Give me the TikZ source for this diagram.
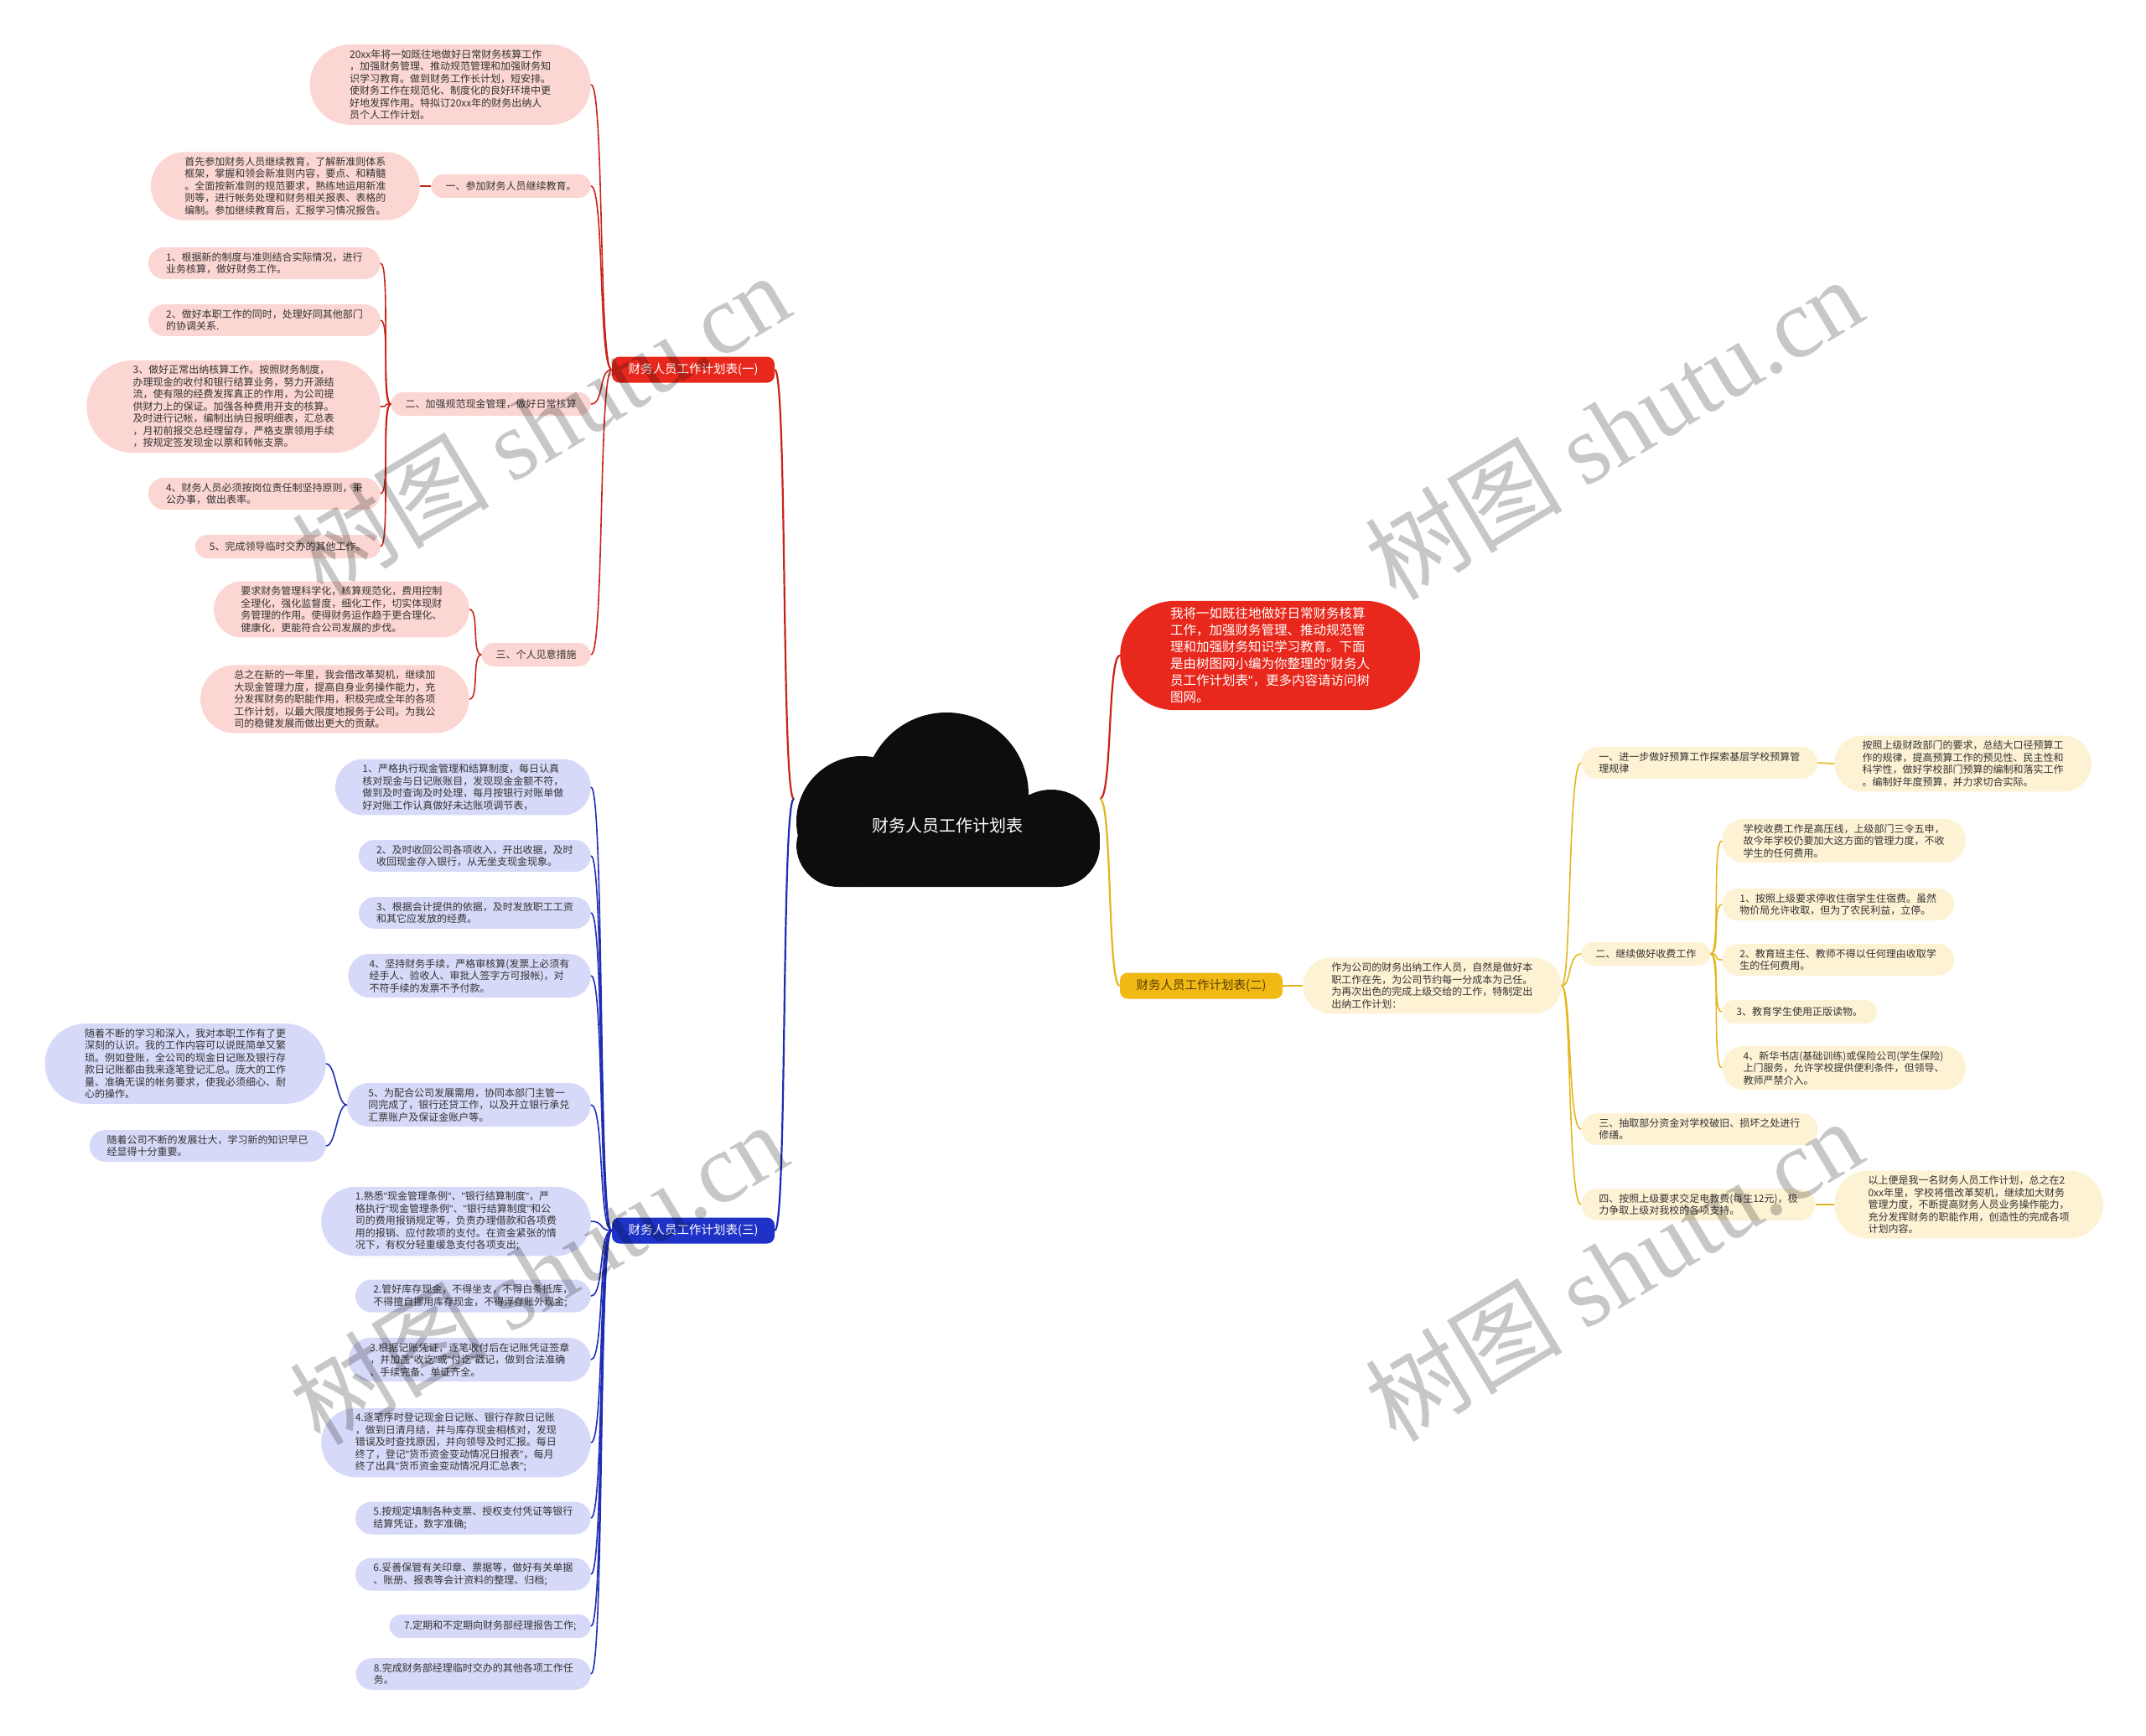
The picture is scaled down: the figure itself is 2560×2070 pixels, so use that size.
\documentclass[tikz,border=0pt]{standalone}
\usepackage{fontspec}
\setmainfont{Noto Sans CJK SC}
\newfontfamily\wmserif{Liberation Serif}
\newfontfamily\qfont{Liberation Sans}
\newcommand\qmark{{\qfont"}}
\usepackage{tikz}
\usetikzlibrary{shapes.misc}
\definecolor{redmain}{RGB}{232,40,28}
\definecolor{redsoft}{RGB}{251,214,210}
\definecolor{redlink}{RGB}{200,35,25}
\definecolor{bluemain}{RGB}{30,50,200}
\definecolor{bluesoft}{RGB}{214,218,248}
\definecolor{bluelink}{RGB}{30,45,180}
\definecolor{yelmain}{RGB}{240,185,20}
\definecolor{yelsoft}{RGB}{253,242,212}
\definecolor{yellink}{RGB}{228,182,30}
\definecolor{cloudblk}{RGB}{13,13,13}

\begin{document}
\begin{tikzpicture}[x=1pt, y=-1pt,
    leaf/.style={rounded rectangle, font=\fontsize{12}{14.5}\selectfont, align=left, inner xsep=16pt, inner ysep=6pt, minimum height=28pt, text=black!80},
    xpad/.style={inner xsep=#1pt},
    rleaf/.style={leaf, fill=redsoft},
    bleaf/.style={leaf, fill=bluesoft},
    yleaf/.style={leaf, fill=yelsoft},
    topic/.style={rectangle, rounded corners=9pt, minimum width=194pt, minimum height=31pt, font=\fontsize{14.5}{17}\selectfont},
    rlink/.style={draw=redlink, line width=1.6pt},
    blink/.style={draw=bluelink, line width=1.6pt},
    ylink/.style={draw=yellink, line width=1.6pt},
    wmark/.style={rotate=31, text=black, text opacity=0.22, font=\fontsize{118}{124}\selectfont}
]
\useasboundingbox (0,0) rectangle (2560,2070);

% central cloud
\fill[cloudblk] (1129,948) circle (98) (1028,980) circle (78) (1254,1000) circle (58);
\fill[cloudblk, rounded corners=50pt] (950,960) rectangle (1312,1058);
\node[text=white, font=\fontsize{20}{24}\selectfont] (root) at (1130,985) {财务人员工作计划表};
\coordinate (cl) at (947,953);
\coordinate (cr) at (1312,953);

% branch one (red)
\node[topic, fill=redmain, text=white] (r0) at (827,441) {财务人员工作计划表(一)};
\node[rleaf, xpad=23, anchor=east] (ri) at (705,101) {20xx年将一如既往地做好日常财务核算工作\\，加强财务管理、推动规范管理和加强财务知\\识学习教育。做到财务工作长计划，短安排。\\使财务工作在规范化、制度化的良好环境中更\\好地发挥作用。特拟订20xx年的财务出纳人\\员个人工作计划。};
\node[rleaf, anchor=east] (ra) at (705,222) {一、参加财务人员继续教育。};
\node[rleaf, xpad=21, anchor=east] (ra1) at (501,222) {首先参加财务人员继续教育，了解新准则体系\\框架，掌握和领会新准则内容，要点、和精髓\\。全面按新准则的规范要求，熟练地运用新准\\则等，进行帐务处理和财务相关报表、表格的\\编制。参加继续教育后，汇报学习情况报告。};
\node[rleaf, anchor=east] (rb) at (705,482) {二、加强规范现金管理，做好日常核算};
\node[rleaf, anchor=east] (rb1) at (454,314) {1、根据新的制度与准则结合实际情况，进行\\业务核算，做好财务工作。};
\node[rleaf, anchor=east] (rb2) at (454,382) {2、做好本职工作的同时，处理好同其他部门\\的协调关系.};
\node[rleaf, xpad=25, anchor=east] (rb3) at (454,485) {3、做好正常出纳核算工作。按照财务制度，\\办理现金的收付和银行结算业务，努力开源结\\流，使有限的经费发挥真正的作用，为公司提\\供财力上的保证。加强各种费用开支的核算。\\及时进行记帐，编制出纳日报明细表，汇总表\\，月初前报交总经理留存，严格支票领用手续\\，按规定签发现金以票和转帐支票。};
\node[rleaf, anchor=east] (rb4) at (454,589) {4、财务人员必须按岗位责任制坚持原则，秉\\公办事，做出表率。};
\node[rleaf, anchor=east] (rb5) at (454,652) {5、完成领导临时交办的其他工作。};
\node[rleaf, anchor=east] (rc) at (705,781) {三、个人见意措施};
\node[rleaf, xpad=18, anchor=east] (rc1) at (560,727) {要求财务管理科学化，核算规范化，费用控制\\全理化，强化监督度，细化工作，切实体现财\\务管理的作用。使得财务运作趋于更合理化、\\健康化，更能符合公司发展的步伐。};
\node[rleaf, xpad=21, anchor=east] (rc2) at (560,834) {总之在新的一年里，我会借改革契机，继续加\\大现金管理力度，提高自身业务操作能力，充\\分发挥财务的职能作用，积极完成全年的各项\\工作计划，以最大限度地报务于公司。为我公\\司的稳健发展而做出更大的贡献。};

\draw[redlink, line width=2.2pt] (cl) .. controls +(-15,0) and +(15,0) .. (r0.east);
\foreach \c in {ri,ra,rb,rc}
  \draw[rlink] (r0.west) .. controls +(-16,0) and +(16,0) .. (\c.east);
\draw[rlink] (ra.west) -- (ra1.east);
\foreach \c in {rb1,rb2,rb3,rb4,rb5}
  \draw[rlink] (rb.west) .. controls +(-12,0) and +(12,0) .. (\c.east);
\foreach \c in {rc1,rc2}
  \draw[rlink] (rc.west) .. controls +(-12,0) and +(12,0) .. (\c.east);

% branch three (blue)
\node[topic, fill=bluemain, text=white] (b0) at (827,1468) {财务人员工作计划表(三)};
\node[bleaf, xpad=18, anchor=east] (b1) at (705,939) {1、严格执行现金管理和结算制度，每日认真\\核对现金与日记账账目，发现现金金额不符，\\做到及时查询及时处理，每月按银行对账单做\\好对账工作认真做好未达账项调节表，};
\node[bleaf, anchor=east] (b2) at (705,1021) {2、及时收回公司各项收入，开出收据，及时\\收回现金存入银行，从无坐支现金现象。};
\node[bleaf, anchor=east] (b3) at (705,1089) {3、根据会计提供的依据，及时发放职工工资\\和其它应发放的经费。};
\node[bleaf, anchor=east] (b4) at (705,1164) {4、坚持财务手续，严格审核算(发票上必须有\\经手人、验收人、审批人签字方可报帐)，对\\不符手续的发票不予付款。};
\node[bleaf, anchor=east] (b5) at (705,1318) {5、为配合公司发展需用，协同本部门主管一\\同完成了，银行还贷工作，以及开立银行承兑\\汇票账户及保证金账户等。};
\node[bleaf, xpad=23, anchor=east] (c1) at (389,1269) {随着不断的学习和深入，我对本职工作有了更\\深刻的认识。我的工作内容可以说既简单又繁\\琐。例如登账，全公司的现金日记账及银行存\\款日记账都由我来逐笔登记汇总。庞大的工作\\量、准确无误的帐务要求，使我必须细心、耐\\心的操作。};
\node[bleaf, anchor=east] (c2) at (389,1367) {随着公司不断的发展壮大，学习新的知识早已\\经显得十分重要。};
\node[bleaf, xpad=21, anchor=east] (b6) at (705,1457) {1.熟悉\qmark 现金管理条例\qmark 、\qmark 银行结算制度\qmark ，严\\格执行\qmark 现金管理条例\qmark 、\qmark 银行结算制度\qmark 和公\\司的费用报销规定等，负责办理借款和各项费\\用的报销、应付款项的支付。在资金紧张的情\\况下，有权分轻重缓急支付各项支出;};
\node[bleaf, anchor=east] (b7) at (705,1546) {2.管好库存现金，不得坐支，不得白条抵库，\\不得擅自挪用库存现金，不得浮存账外现金;};
\node[bleaf, anchor=east] (b8) at (705,1622) {3.根据记账凭证，逐笔收付后在记账凭证签章\\，并加盖\qmark 收讫\qmark 或\qmark 付讫\qmark 戳记，做到合法准确\\、手续完备、单证齐全。};
\node[bleaf, xpad=21, anchor=east] (b9) at (705,1721) {4.逐笔序时登记现金日记账、银行存款日记账\\，做到日清月结，并与库存现金相核对，发现\\错误及时查找原因，并向领导及时汇报。每日\\终了，登记\qmark 货币资金变动情况日报表\qmark ，每月\\终了出具\qmark 货币资金变动情况月汇总表\qmark ;};
\node[bleaf, anchor=east] (b10) at (705,1811) {5.按规定填制各种支票、授权支付凭证等银行\\结算凭证，数字准确;};
\node[bleaf, anchor=east] (b11) at (705,1878) {6.妥善保管有关印章、票据等，做好有关单据\\、账册、报表等会计资料的整理、归档;};
\node[bleaf, anchor=east] (b12) at (705,1940) {7.定期和不定期向财务部经理报告工作;};
\node[bleaf, anchor=east] (b13) at (705,1997) {8.完成财务部经理临时交办的其他各项工作任\\务。};

\draw[bluelink, line width=2.2pt] (cl) .. controls +(-15,0) and +(15,0) .. (b0.east);
\foreach \c in {b1,b2,b3,b4,b5,b6,b7,b8,b9,b10,b11,b12,b13}
  \draw[blink] (b0.west) .. controls +(-16,0) and +(16,0) .. (\c.east);
\foreach \c in {c1,c2}
  \draw[blink] (b5.west) .. controls +(-12,0) and +(12,0) .. (\c.east);

% right side: intro and branch two (yellow)
\node[rounded rectangle, fill=redmain, text=white, align=left, inner xsep=26pt, inner ysep=8pt, font=\fontsize{15.5}{20}\selectfont, anchor=west] (intro) at (1336,782) {我将一如既往地做好日常财务核算\\工作，加强财务管理、推动规范管\\理和加强财务知识学习教育。下面\\是由树图网小编为你整理的\qmark 财务人\\员工作计划表\qmark ，更多内容请访问树\\图网。};
\node[topic, fill=yelmain, text={rgb,255:red,90;green,60;blue,0}] (y0) at (1433,1176) {财务人员工作计划表(二)};
\node[yleaf, xpad=20, anchor=west] (ya) at (1554,1176) {作为公司的财务出纳工作人员，自然是做好本\\职工作在先，为公司节约每一分成本为己任。\\为再次出色的完成上级交给的工作，特制定出\\出纳工作计划：};
\node[yleaf, anchor=west] (y1) at (1886,910) {一、进一步做好预算工作探索基层学校预算管\\理规律};
\node[yleaf, xpad=19, anchor=west] (y1a) at (2188,911) {按照上级财政部门的要求，总结大口径预算工\\作的规律，提高预算工作的预见性、民主性和\\科学性，做好学校部门预算的编制和落实工作\\。编制好年度预算，并力求切合实际。};
\node[yleaf, anchor=west] (y2) at (1886,1138) {二、继续做好收费工作};
\node[yleaf, anchor=west] (y2a) at (2054,1003) {学校收费工作是高压线，上级部门三令五申，\\故今年学校仍要加大这方面的管理力度，不收\\学生的任何费用。};
\node[yleaf, anchor=west] (y2b) at (2054,1079) {1、按照上级要求停收住宿学生住宿费。虽然\\物价局允许收取，但为了农民利益，立停。};
\node[yleaf, anchor=west] (y2c) at (2054,1145) {2、教育班主任、教师不得以任何理由收取学\\生的任何费用。};
\node[yleaf, anchor=west] (y2d) at (2054,1207) {3、教育学生使用正版读物。};
\node[yleaf, anchor=west] (y2e) at (2054,1274) {4、新华书店(基础训练)或保险公司(学生保险)\\上门服务，允许学校提供便利条件，但领导、\\教师严禁介入。};
\node[yleaf, anchor=west] (y3) at (1886,1347) {三、抽取部分资金对学校破旧、损坏之处进行\\修缮。};
\node[yleaf, anchor=west] (y4) at (1886,1437) {四、按照上级要求交足电教费(每生12元)，极\\力争取上级对我校的各项支持。};
\node[yleaf, xpad=21, anchor=west] (y4a) at (2188,1437) {以上便是我一名财务人员工作计划，总之在2\\0xx年里，学校将借改革契机，继续加大财务\\管理力度，不断提高财务人员业务操作能力，\\充分发挥财务的职能作用，创造性的完成各项\\计划内容。};

\draw[redlink, line width=2.2pt] (cr) .. controls +(15,0) and +(-15,0) .. (intro.west);
\draw[yellink, line width=2.2pt] (cr) .. controls +(15,0) and +(-15,0) .. (y0.west);
\draw[ylink] (y0.east) -- (ya.west);
\foreach \c in {y1,y2,y3,y4}
  \draw[ylink] (ya.east) .. controls +(12,0) and +(-16,0) .. (\c.west);
\draw[ylink] (y1.east) -- (y1a.west);
\draw[ylink] (y4.east) -- (y4a.west);
\foreach \c in {y2a,y2b,y2c,y2d,y2e}
  \draw[ylink] (y2.east) .. controls +(12,0) and +(-12,0) .. (\c.west);

% watermarks
\foreach \wx/\wy/\k in {645/505/1, 1925/510/2, 642/1518/3, 1925/1514/4}
  \node[wmark] (wm\k) at (\wx,\wy) {树图 {\wmserif shutu.cn}};
\end{tikzpicture}
\end{document}
